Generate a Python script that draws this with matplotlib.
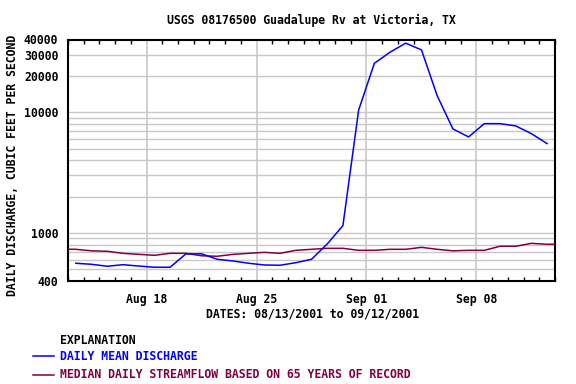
import pandas as pd
import matplotlib
matplotlib.use('Agg')
import matplotlib.pyplot as plt
import matplotlib.dates as mdates
from matplotlib.lines import Line2D
from matplotlib.ticker import FixedLocator, NullFormatter

# daily mean discharge, Aug 13 - Sep 12 2001 (cfs)
mean_dates = pd.date_range('2001-08-13', '2001-09-12', freq='D') + pd.Timedelta(hours=12)
mean_q = [561, 550, 530, 546, 532, 520, 520, 670, 672, 605, 586,
          561, 543, 540, 567, 605, 810, 1150, 10400, 25400, 31400,
          37300, 32800, 13700, 7270, 6240, 8040, 8040, 7700, 6640, 5490]

# median daily streamflow (65 years), Aug 12 - Sep 13
median_dates = pd.date_range('2001-08-12', '2001-09-13', freq='D') + pd.Timedelta(hours=12)
median_q = [735, 732, 711, 705, 678, 665, 653, 678, 678, 647, 641,
            665, 678, 691, 678, 718, 732, 746, 746, 718, 718, 732,
            732, 760, 732, 711, 718, 718, 776, 776, 820, 806, 805]

ytick_vals = [400, 1000, 10000, 20000, 30000, 40000]
ygrid_vals = [500, 600, 700, 800, 900, 1000, 2000, 3000, 4000, 5000,
              6000, 7000, 8000, 9000, 10000, 20000, 30000]

BLUE = '#0000ff'
MAROON = '#800040'
font = {'family': 'DejaVu Sans Mono', 'weight': 'bold', 'size': 8.3}

fig = plt.figure(figsize=(5.76, 3.84), dpi=100)
ax = fig.add_axes([68 / 576, 1 - 281 / 384, 487 / 576, 241.5 / 384])

ax.plot(median_dates, median_q, color=MAROON, lw=1.1, zorder=3)
ax.plot(mean_dates, mean_q, color=BLUE, lw=1.1, zorder=4)

ax.set_yscale('log')
ax.set_ylim(400, 40000)
ax.set_xlim(pd.Timestamp('2001-08-13'), pd.Timestamp('2001-09-13'))

ax.yaxis.set_major_locator(FixedLocator(ytick_vals))
ax.yaxis.set_minor_locator(FixedLocator([]))
ax.yaxis.set_minor_formatter(NullFormatter())
ax.set_yticklabels([str(v) for v in ytick_vals], fontdict=font)
ax.tick_params(axis='y', length=0, pad=7)
for v in ygrid_vals:
    ax.axhline(v, color='#c8c8c8', lw=1, zorder=1)

weeks = pd.to_datetime(['2001-08-18', '2001-08-25', '2001-09-01', '2001-09-08'])
ax.xaxis.set_major_locator(FixedLocator(mdates.date2num(weeks)))
ax.xaxis.set_major_formatter(mdates.DateFormatter('%b %d'))
ax.xaxis.set_minor_locator(mdates.DayLocator())
for lab in ax.get_xticklabels():
    lab.set_fontproperties(matplotlib.font_manager.FontProperties(**font))
ax.tick_params(axis='x', which='major', length=0, pad=9)
ax.tick_params(axis='x', which='minor', direction='in', length=3, width=1,
               top=True, bottom=True)
for d in weeks:
    ax.axvline(d, color='#c8c8c8', lw=1.2, zorder=1)

for s in ax.spines.values():
    s.set_linewidth(1.5)

fig.text(311 / 576, 1 - 20.5 / 384, 'USGS 08176500 Guadalupe Rv at Victoria, TX',
         ha='center', va='center', **font)
fig.text(13 / 576, 1 - 165 / 384, 'DAILY DISCHARGE, CUBIC FEET PER SECOND',
         ha='center', va='center', rotation=90, **font)
fig.text(313 / 576, 1 - 314 / 384, 'DATES: 08/13/2001 to 09/12/2001',
         ha='center', va='center', **font)

fig.text(60 / 576, 1 - 340 / 384, 'EXPLANATION', ha='left', va='center', **font)
fig.text(60 / 576, 1 - 356 / 384, 'DAILY MEAN DISCHARGE', ha='left', va='center',
         color=BLUE, **font)
fig.text(60 / 576, 1 - 375 / 384, 'MEDIAN DAILY STREAMFLOW BASED ON 65 YEARS OF RECORD',
         ha='left', va='center', color=MAROON, **font)
fig.add_artist(Line2D([33 / 576, 54 / 576], [1 - 356 / 384] * 2, color=BLUE, lw=1.1))
fig.add_artist(Line2D([33 / 576, 54 / 576], [1 - 375 / 384] * 2, color=MAROON, lw=1.1))

fig.savefig('out.png', dpi=100)
